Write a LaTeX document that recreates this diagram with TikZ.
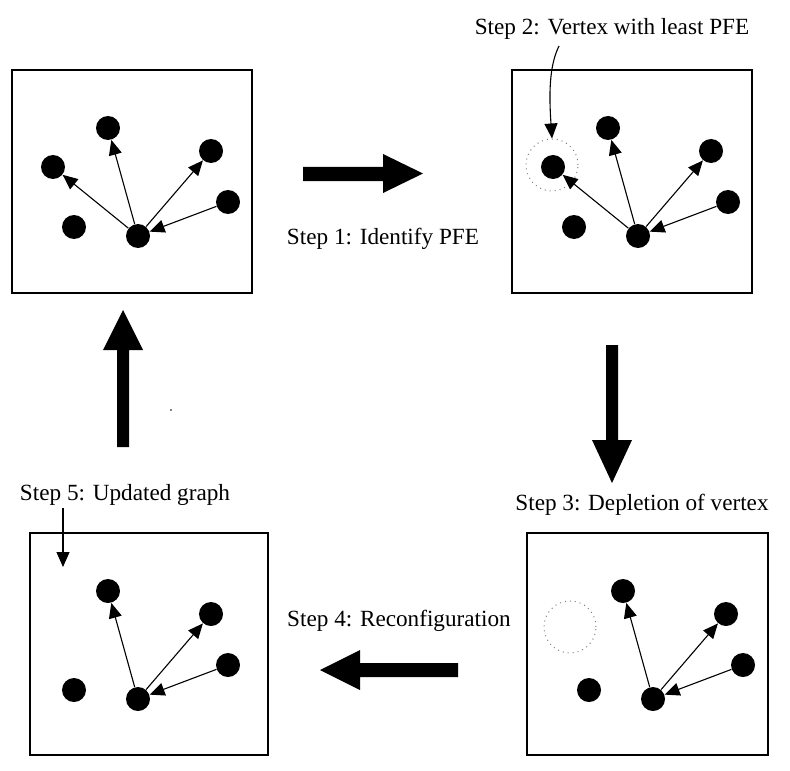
\documentclass[tikz,border=0pt]{standalone}
\usepackage{fontspec}
\setmainfont{Liberation Serif}
\usetikzlibrary{arrows.meta}

\tikzset{
  vertex/.style={circle, fill=black, inner sep=0pt, minimum size=12pt},
  edge/.style={-{Triangle[length=7.5pt, width=6.5pt]}, line width=0.55pt},
  panel/.style={draw, line width=0.7pt},
  ring/.style={circle, draw=gray, dotted, line width=0.5pt, inner sep=0pt, minimum size=26pt},
  steplabel/.style={inner sep=0pt, font=\fontsize{11.6}{14}\selectfont}
}

\begin{document}
\begin{tikzpicture}[x=0.5pt, y=-0.5pt]
  \useasboundingbox (0,0) rectangle (790,770);

  \begin{scope}
    \draw[panel] (12,70) rectangle (252,293);
    \node[vertex] (a1) at (108,128) {};
    \node[vertex] (b1) at (53,167) {};
    \node[vertex] (c1) at (211,151) {};
    \node[vertex] (d1) at (228,202) {};
    \node[vertex] (e1) at (74,227) {};
    \node[vertex] (f1) at (138,236) {};
    \draw[edge] (f1) -- (a1);
    \draw[edge] (f1) -- (b1);
    \draw[edge] (f1) -- (c1);
    \draw[edge] (d1) -- (f1);
  \end{scope}

  \begin{scope}[shift={(500,0)}]
    \draw[panel] (12,70) rectangle (252,293);
    \node[vertex] (a2) at (108,128) {};
    \node[vertex] (b2) at (53,167) {};
    \node[vertex] (c2) at (211,151) {};
    \node[vertex] (d2) at (228,202) {};
    \node[vertex] (e2) at (74,227) {};
    \node[vertex] (f2) at (138,236) {};
    \node[ring] (r2) at (52,165) {};
    \draw[edge] (f2) -- (a2);
    \draw[edge] (f2) -- (b2);
    \draw[edge] (f2) -- (c2);
    \draw[edge] (d2) -- (f2);
  \end{scope}

  \begin{scope}[shift={(515,463)}]
    \draw[panel] (12,70) rectangle (253,292);
    \node[vertex] (a3) at (108,128) {};
    \node[vertex] (c3) at (211,151) {};
    \node[vertex] (d3) at (228,202) {};
    \node[vertex] (e3) at (74,227) {};
    \node[vertex] (f3) at (138,236) {};
    \node[ring] (r3) at (55,164) {};
    \draw[edge] (f3) -- (a3);
    \draw[edge] (f3) -- (c3);
    \draw[edge] (d3) -- (f3);
  \end{scope}

  \begin{scope}[shift={(0,463)}]
    \draw[panel] (30,70) rectangle (268,292);
    \node[vertex] (a4) at (108,128) {};
    \node[vertex] (c4) at (211,151) {};
    \node[vertex] (d4) at (228,202) {};
    \node[vertex] (e4) at (74,227) {};
    \node[vertex] (f4) at (138,236) {};
    \draw[edge] (f4) -- (a4);
    \draw[edge] (f4) -- (c4);
    \draw[edge] (d4) -- (f4);
  \end{scope}

  \node[steplabel] (s1) at (383,239) {Step 1: Identify PFE};
  \node[steplabel] (s2) at (612,29) {Step 2: Vertex with least PFE};
  \node[steplabel] (s3) at (642,505) {Step 3: Depletion of vertex};
  \node[steplabel] (s4) at (399,621) {Step 4: Reconfiguration};
  \node[steplabel] (s5) at (125,495) {Step 5: Updated graph};

  \coordinate (t2) at (559,46);
  \draw[edge] (t2) .. controls (549,66) and (549,95) .. (r2.north);
  \coordinate (t5) at (63,508);
  \coordinate (h5) at (63,567);
  \draw[edge] (t5) -- (h5);

  \fill (303,167) -- (383,167) -- (383,154) -- (423,173.5) -- (383,193) -- (383,181) -- (303,181) -- cycle;
  \fill (606,345) -- (618,345) -- (618,440) -- (632,440) -- (612,483) -- (592,440) -- (606,440) -- cycle;
  \fill (458,663) -- (360,663) -- (360,650) -- (320,670) -- (360,690) -- (360,677) -- (458,677) -- cycle;
  \fill (117,447) -- (117,350) -- (103,350) -- (123,310) -- (143,350) -- (129,350) -- (129,447) -- cycle;
  \fill (171,410) circle (0.8);
\end{tikzpicture}
\end{document}
